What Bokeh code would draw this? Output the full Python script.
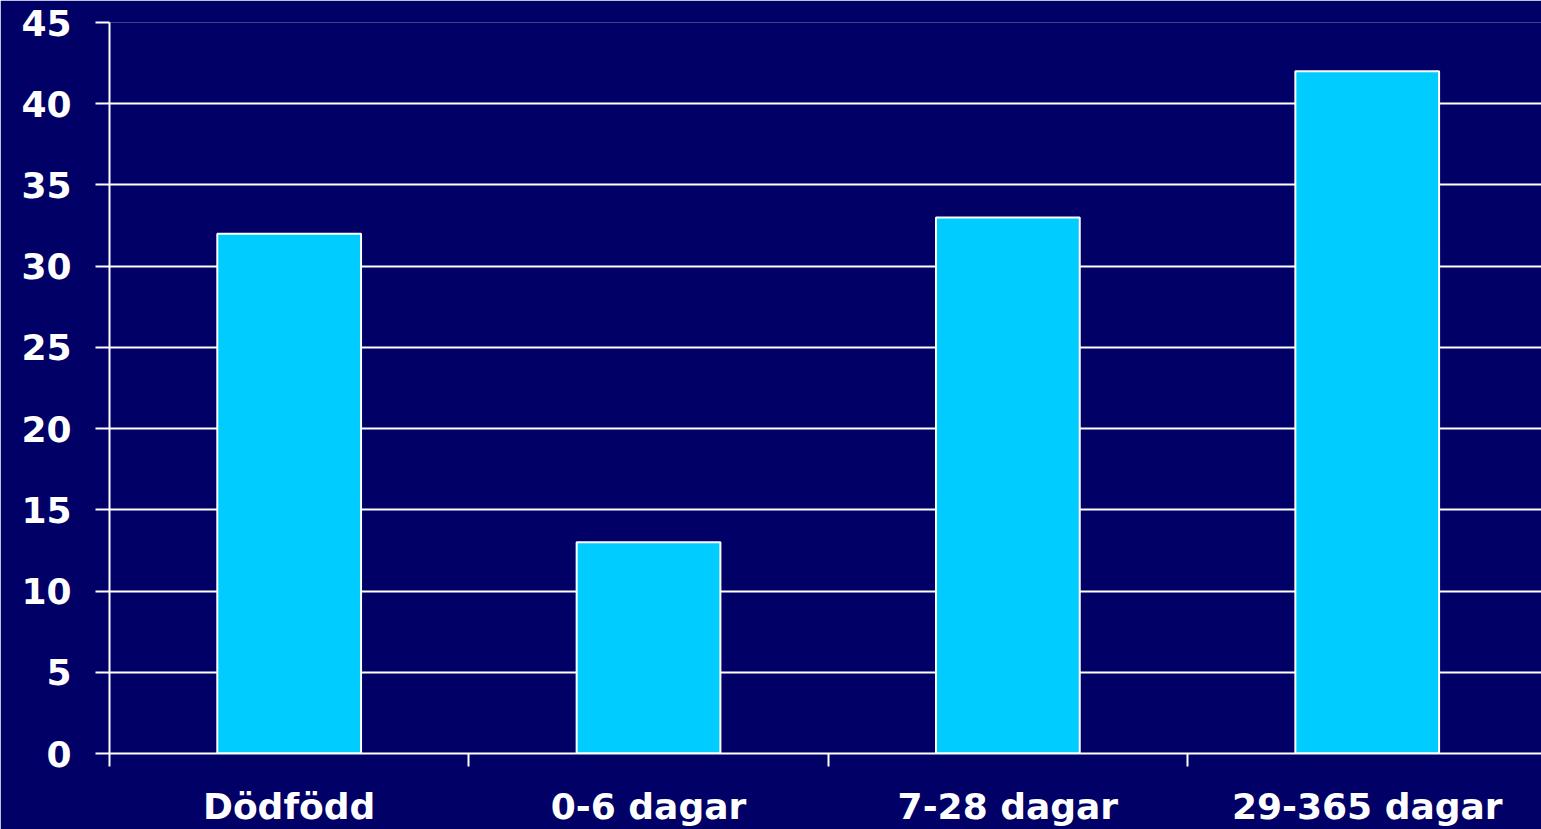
from bokeh.plotting import figure
from bokeh.models import Range1d, FixedTicker
from bokeh.embed import file_html
from bokeh.resources import INLINE

# Deaths per group
categories = ["Dödfödd", "0-6 dagar", "7-28 dagar", "29-365 dagar"]
values = [32, 13, 33, 42]
y_ticks = [0, 5, 10, 15, 20, 25, 30, 35, 40, 45]

BG = "#000066"
BAR = "#00CCFF"
FONT = "DejaVu Sans"

x_centers = [i + 0.5 for i in range(len(categories))]
boundaries = list(range(len(categories) + 1))

p = figure(
    width=1541, height=829,
    x_range=Range1d(0, 3.985), y_range=Range1d(0, 45),
    output_backend="svg", toolbar_location=None,
    min_border_left=109, min_border_right=0,
    min_border_top=22, min_border_bottom=74,
)
p.background_fill_color = BG
p.border_fill_color = BG
p.outline_line_color = None

p.vbar(x=x_centers, top=values, width=0.4, bottom=0,
       fill_color=BAR, line_color="white", line_width=2)

# grid
p.xgrid.grid_line_color = None
p.ygrid.grid_line_color = "white"
p.ygrid.grid_line_width = 2
p.ygrid.grid_line_alpha = 1.0

# y axis
p.yaxis.ticker = FixedTicker(ticks=y_ticks)
p.yaxis.axis_line_color = "white"
p.yaxis.axis_line_width = 2
p.yaxis.major_tick_line_color = "white"
p.yaxis.major_tick_line_width = 2
p.yaxis.major_tick_out = 14
p.yaxis.major_tick_in = 0
p.yaxis.minor_tick_line_color = None
p.yaxis.major_label_text_color = "white"
p.yaxis.major_label_text_font = FONT
p.yaxis.major_label_text_font_style = "bold"
p.yaxis.major_label_text_font_size = "36px"
p.yaxis.major_label_standoff = 24

# x axis: labels at bar centres, separator ticks at category boundaries
p.xaxis.ticker = FixedTicker(ticks=x_centers, minor_ticks=boundaries)
p.xaxis.major_label_overrides = {c: lab for c, lab in zip(x_centers, categories)}
p.xaxis.axis_line_color = "white"
p.xaxis.axis_line_width = 2
p.xaxis.major_tick_line_color = None
p.xaxis.major_tick_out = 0
p.xaxis.major_tick_in = 0
p.xaxis.minor_tick_line_color = "white"
p.xaxis.minor_tick_line_width = 2
p.xaxis.minor_tick_out = 13
p.xaxis.minor_tick_in = 0
p.xaxis.major_label_text_color = "white"
p.xaxis.major_label_text_font = FONT
p.xaxis.major_label_text_font_style = "bold"
p.xaxis.major_label_text_font_size = "36px"
p.xaxis.major_label_standoff = 19

open("out.html", "w").write(file_html(p, INLINE))
